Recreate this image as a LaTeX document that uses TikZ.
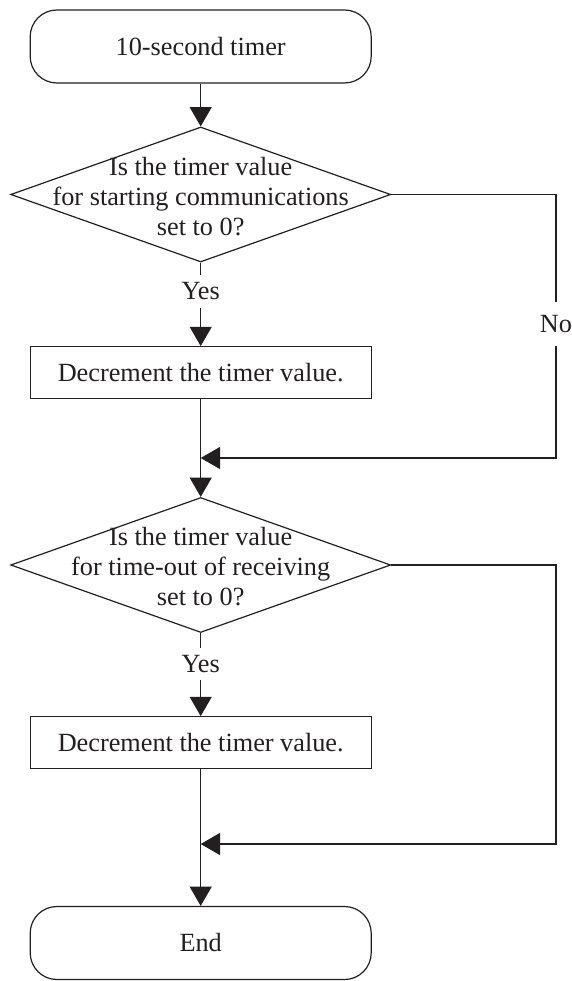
\documentclass[tikz,border=0pt]{standalone}
\usepackage{fontspec}
\setmainfont{Liberation Serif}
\usetikzlibrary{shapes.geometric,arrows.meta}
\definecolor{ink}{HTML}{231F20}
\begin{document}
\begin{tikzpicture}[x=0.75pt,y=-0.75pt,
  every node/.style={text=ink, font=\fontsize{19.7pt}{22.5pt}\selectfont},
  line/.style={draw=ink, line width=0.9pt},
  arr/.style={line, -{Triangle[length=14.5pt,width=16.5pt]}},
  term/.style={draw=ink, line width=0.9pt, rounded corners=20pt, minimum width=255.75pt, minimum height=54.75pt, inner sep=0pt},
  proc/.style={draw=ink, line width=0.9pt, minimum width=255.75pt, minimum height=38.7pt, inner sep=0pt},
  dec/.style={draw=ink, line width=0.9pt, diamond, minimum width=285pt, minimum height=101.25pt, inner sep=0pt},
  qtext/.style={align=center, inner sep=0pt},
  lbl/.style={inner sep=0pt, minimum height=24pt},
  nolbl/.style={inner sep=0pt, minimum height=32.25pt}
]
\useasboundingbox (0,0) rectangle (571,981);
\node[term] (start) at (200.7,46.5) {10-second timer};
\node[dec] (d1) at (200.7,194.5) {};
\node[qtext] (q1) at ([yshift=-1.5pt]d1.center) {Is the timer value\\for starting communications\\set to 0?};
\node[lbl] (y1) at (200.7,291.5) {Yes};
\node[proc] (b1) at (200.7,372.5) {Decrement the timer value.};
\coordinate (m1) at (200.7,458);
\node[nolbl] (no) at (556,324) {No};
\node[dec] (d2) at (200.7,565) {};
\node[qtext] (q2) at ([yshift=-1.5pt]d2.center) {Is the timer value\\for time-out of receiving\\set to 0?};
\node[lbl] (y2) at (200.7,664) {Yes};
\node[proc] (b2) at (200.7,742.5) {Decrement the timer value.};
\coordinate (m2) at (200.7,844);
\node[term] (end) at (200.7,943) {End};

\draw[arr] (start.south) -- (d1.north);
\draw[line] (d1.south) -- (y1.north);
\draw[arr] (y1.south) -- (b1.north);
\draw[arr] (b1.south) -- (d2.north);
\draw[line] (d1.east) -- (d1.east -| no) -- (no.north);
\draw[arr] (no.south) |- (m1);
\draw[line] (d2.south) -- (y2.north);
\draw[arr] (y2.south) -- (b2.north);
\draw[arr] (b2.south) -- (end.north);
\draw[arr] (d2.east) -- (d2.east -| no) |- (m2);
\end{tikzpicture}
\end{document}
